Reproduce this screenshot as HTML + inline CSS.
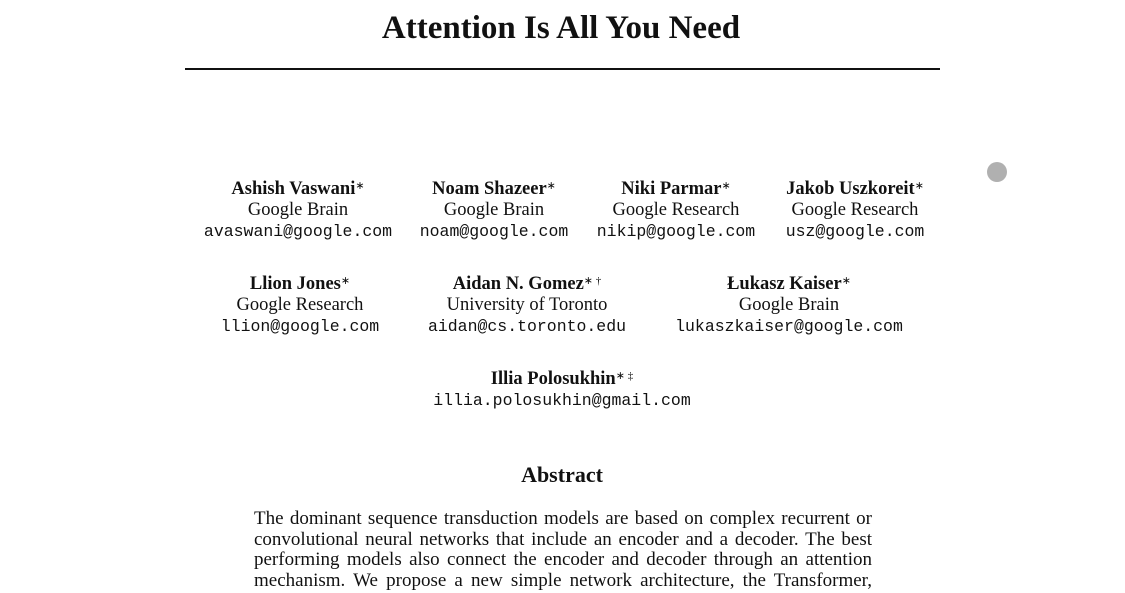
<!DOCTYPE html>
<html><head><meta charset="utf-8"><style>
html,body{margin:0;padding:0;background:#fff;}
body{width:1125px;height:593px;position:relative;overflow:hidden;font-family:"Liberation Serif",serif;color:#111;}
.c{position:absolute;transform:translateX(-50%);text-align:center;white-space:nowrap;}
.n{font-weight:bold;font-size:18.5px;line-height:21px;}
.a{font-size:18.5px;line-height:21px;}
.m{font-family:"Liberation Mono",monospace;font-size:16.5px;line-height:21px;}
sup{font-size:11px;font-weight:normal;vertical-align:5px;}
.l{position:absolute;left:254px;width:618px;font-size:19px;line-height:20.5px;text-align:justify;text-align-last:justify;white-space:nowrap;}
</style></head><body>
<div class="c" style="left:561px;top:10px;font-weight:bold;font-size:33px;">Attention Is All You Need</div>
<div style="position:absolute;left:185px;top:68px;width:755px;height:2px;background:#111;"></div>
<div style="position:absolute;left:987px;top:162px;width:20px;height:20px;border-radius:50%;background:#b0b0b0;"></div>

<div class="c" style="left:298px;top:176px;"><div class="n">Ashish Vaswani<sup>∗</sup></div><div class="a">Google Brain</div><div class="m">avaswani@google.com</div></div>
<div class="c" style="left:494px;top:176px;"><div class="n">Noam Shazeer<sup>∗</sup></div><div class="a">Google Brain</div><div class="m">noam@google.com</div></div>
<div class="c" style="left:676px;top:176px;"><div class="n">Niki Parmar<sup>∗</sup></div><div class="a">Google Research</div><div class="m">nikip@google.com</div></div>
<div class="c" style="left:855px;top:176px;"><div class="n">Jakob Uszkoreit<sup>∗</sup></div><div class="a">Google Research</div><div class="m">usz@google.com</div></div>

<div class="c" style="left:300px;top:271px;"><div class="n">Llion Jones<sup>∗</sup></div><div class="a">Google Research</div><div class="m">llion@google.com</div></div>
<div class="c" style="left:527px;top:271px;"><div class="n">Aidan N. Gomez<sup>∗ †</sup></div><div class="a">University of Toronto</div><div class="m">aidan@cs.toronto.edu</div></div>
<div class="c" style="left:789px;top:271px;"><div class="n">Łukasz Kaiser<sup>∗</sup></div><div class="a">Google Brain</div><div class="m">lukaszkaiser@google.com</div></div>

<div class="c" style="left:562px;top:366px;"><div class="n">Illia Polosukhin<sup>∗ ‡</sup></div><div class="m">illia.polosukhin@gmail.com</div></div>

<div class="c" style="left:562px;top:462px;font-weight:bold;font-size:22px;">Abstract</div>
<div>
<div class="l" style="top:509px;">The dominant sequence transduction models are based on complex recurrent or</div>
<div class="l" style="top:530px;">convolutional neural networks that include an encoder and a decoder. The best</div>
<div class="l" style="top:550px;">performing models also connect the encoder and decoder through an attention</div>
<div class="l" style="top:571px;">mechanism. We propose a new simple network architecture, the Transformer,</div>
</div>
</body></html>
